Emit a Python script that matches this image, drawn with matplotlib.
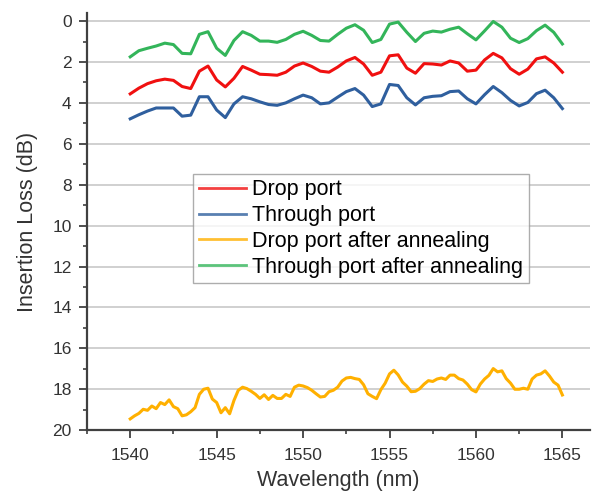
import matplotlib as mpl
mpl.use('Agg')
import matplotlib.pyplot as plt
from matplotlib.ticker import MultipleLocator
import numpy as np

plt.rcParams['font.family'] = ['Liberation Sans', 'DejaVu Sans']

# wavelength grids (nm)
wl = np.arange(1540.0, 1565.01, 0.5)
wl_fine = np.arange(1540.0, 1565.01, 0.25)

# insertion loss (dB)
drop_port = [3.56, 3.28, 3.06, 2.92, 2.84, 2.90, 3.20, 3.30, 2.45, 2.20,
             2.88, 3.22, 2.80, 2.22, 2.40, 2.60, 2.62, 2.65, 2.50, 2.20,
             2.05, 2.22, 2.45, 2.50, 2.25, 1.95, 1.78, 2.10, 2.65, 2.50,
             1.70, 1.65, 2.30, 2.55, 2.08, 2.10, 2.15, 1.95, 2.05, 2.45,
             2.40, 1.90, 1.58, 1.80, 2.33, 2.60, 2.35, 1.85, 1.75, 2.05,
             2.50]
through_port = [4.78, 4.58, 4.40, 4.25, 4.25, 4.25, 4.65, 4.60, 3.70, 3.70,
                4.35, 4.72, 4.05, 3.70, 3.80, 3.95, 4.08, 4.12, 4.00, 3.80,
                3.62, 3.75, 4.05, 4.00, 3.72, 3.45, 3.30, 3.62, 4.18, 4.05,
                3.10, 3.15, 3.75, 4.10, 3.75, 3.68, 3.65, 3.45, 3.42, 3.80,
                4.05, 3.60, 3.20, 3.50, 3.88, 4.15, 3.98, 3.55, 3.38, 3.75,
                4.28]
through_annealed = [1.75, 1.45, 1.33, 1.22, 1.08, 1.15, 1.58, 1.60, 0.65, 0.52,
                    1.33, 1.68, 0.95, 0.52, 0.70, 0.98, 0.98, 1.04, 0.90, 0.65,
                    0.50, 0.70, 0.95, 0.98, 0.65, 0.35, 0.18, 0.45, 1.05, 0.90,
                    0.15, 0.05, 0.55, 1.00, 0.60, 0.49, 0.54, 0.40, 0.30, 0.62,
                    0.92, 0.48, 0.02, 0.30, 0.84, 1.05, 0.86, 0.47, 0.20, 0.55,
                    1.12]
drop_annealed = [19.45, 19.30, 19.18, 18.98, 19.03, 18.82, 18.95, 18.65, 18.75, 18.52,
                 18.85, 18.95, 19.30, 19.25, 19.10, 18.90, 18.25, 18.00, 17.95, 18.48,
                 18.65, 19.15, 18.90, 19.20, 18.55, 18.05, 17.90, 17.97, 18.10, 18.25,
                 18.45, 18.27, 18.50, 18.30, 18.45, 18.45, 18.25, 18.35, 17.90, 17.80,
                 17.84, 17.92, 18.05, 18.22, 18.38, 18.35, 18.12, 18.05, 17.90, 17.60,
                 17.45, 17.42, 17.48, 17.52, 17.78, 18.22, 18.35, 18.46, 18.02, 17.70,
                 17.25, 17.07, 17.30, 17.65, 17.85, 18.12, 18.10, 17.97, 17.75, 17.58,
                 17.62, 17.50, 17.45, 17.52, 17.31, 17.31, 17.48, 17.55, 17.75, 18.02,
                 18.13, 17.75, 17.50, 17.32, 16.99, 17.15, 17.10, 17.48, 17.70, 18.00,
                 18.00, 17.95, 18.00, 17.50, 17.31, 17.25, 17.10, 17.35, 17.65, 17.80,
                 18.28]

RED = '#f01010'
BLUE = '#2f5f9e'
YELLOW = '#ffb000'
GREEN = '#33b55a'

fig = plt.figure(figsize=(5.96, 4.95), dpi=100)
ax = fig.add_axes([0.146, 0.131, 0.844, 0.843])

ax.plot(wl, drop_port, color=RED, lw=2.2, label='Drop port')
ax.plot(wl, through_port, color=BLUE, lw=2.2, label='Through port')
ax.plot(wl_fine, drop_annealed, color=YELLOW, lw=2.2, label='Drop port after annealing')
ax.plot(wl, through_annealed, color=GREEN, lw=2.2, label='Through port after annealing')

ax.set_xlim(1537.5, 1566.6)
ax.set_ylim(20, -0.4)
ax.xaxis.set_major_locator(MultipleLocator(5))
ax.xaxis.set_minor_locator(MultipleLocator(2.5))
ax.yaxis.set_major_locator(MultipleLocator(2))
ax.yaxis.set_minor_locator(MultipleLocator(1))

ax.grid(axis='y', which='major', color='#d0d0d0', lw=1.4)
ax.set_axisbelow(True)
for side in ('top', 'right'):
    ax.spines[side].set_visible(False)
for side in ('left', 'bottom'):
    ax.spines[side].set_color('#404040')
    ax.spines[side].set_linewidth(1.6)

ax.tick_params(which='major', direction='out', length=6, width=1.3,
               color='#404040', labelsize=12.5, labelcolor='#333333')
ax.tick_params(which='minor', direction='out', length=3, width=1.2, color='#404040')
ax.tick_params(axis='y', pad=5)
ax.tick_params(axis='x', pad=7)

ax.set_xlabel('Wavelength (nm)', fontsize=15.5, color='#333333', labelpad=5)
ax.set_ylabel('Insertion Loss (dB)', fontsize=15.5, color='#333333', labelpad=10)

leg = ax.legend(loc='upper left', bbox_to_anchor=(0.211, 0.614), borderaxespad=0,
                fontsize=15.5, frameon=True, fancybox=False, edgecolor='#999999',
                handlelength=2.2, handletextpad=0.3, labelspacing=0.22,
                borderpad=0.25)
leg.get_frame().set_linewidth(1.0)
for line in leg.get_lines():
    line.set_linewidth(2)
    line.set_alpha(0.8)

fig.savefig('out.png', dpi=100)
